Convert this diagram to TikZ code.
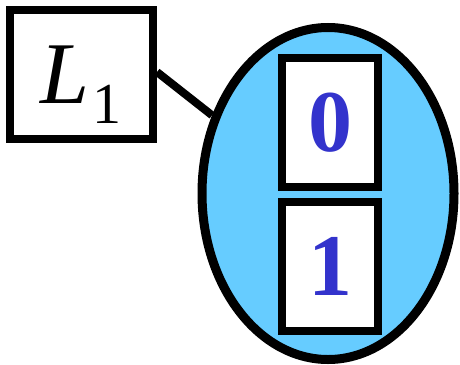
\documentclass[tikz,border=0pt]{standalone}
\usepackage{fontspec}
\setmainfont{Liberation Serif}
\usetikzlibrary{shapes.geometric}
\definecolor{setblue}{HTML}{66CCFF}
\definecolor{digitblue}{HTML}{3333CC}
\tikzset{
  cell/.style={draw=black, line width=8pt, fill=white, rectangle, inner sep=0pt, minimum width=96pt, minimum height=129pt,
    font=\fontsize{88}{88}\selectfont\bfseries, text=digitblue},
  labelbox/.style={draw=black, line width=8pt, fill=white, rectangle, inner sep=0pt, minimum width=143pt, minimum height=129pt},
  setshape/.style={draw=black, line width=9pt, fill=setblue, ellipse, inner sep=0pt, minimum width=252pt, minimum height=332pt},
  link/.style={draw=black, line width=8pt}
}
\begin{document}
\begin{tikzpicture}[x=1pt,y=-1pt]
\useasboundingbox (0,0) rectangle (460,364);
\node[labelbox] (L1) at (81.5,74.5) {};
\node[anchor=base west, inner sep=0pt] (L1t) at (40,103) {\fontsize{88}{88}\selectfont\itshape L\kern3pt\raisebox{-20pt}{\fontsize{58}{58}\selectfont\upshape 1}};
\node[setshape] (set) at (328,193.5) {};
\draw[link] ([yshift=2.5pt]L1.east) -- (set.146.7);
\node[cell] (c0) at (330,122.5) {0};
\node[cell] (c1) at (330,266.5) {1};
\end{tikzpicture}
\end{document}
